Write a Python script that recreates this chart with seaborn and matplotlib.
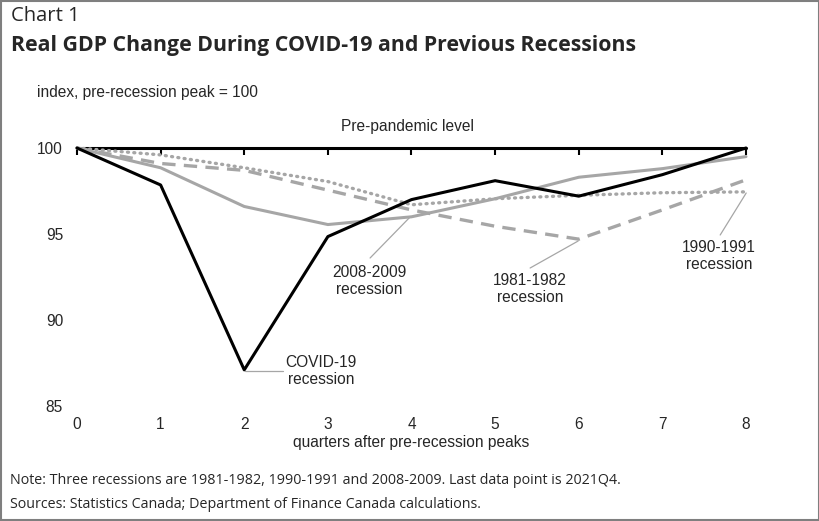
import numpy as np
import pandas as pd
import matplotlib
matplotlib.use("Agg")
import matplotlib.pyplot as plt
import seaborn as sns
from matplotlib.patches import Rectangle

# Data (index, pre-recession peak = 100)
quarters = [0, 1, 2, 3, 4, 5, 6, 7, 8]
covid = [100, 97.85, 87.1, 94.85, 97.0, 98.1, 97.2, 98.45, 100]
rec_2008 = [100, 98.85, 96.6, 95.55, 96.0, 97.05, 98.3, 98.8, 99.5]
rec_1981 = [100, 99.1, 98.7, 97.55, 96.4, 95.45, 94.7, 96.4, 98.15]
rec_1990 = [100, 99.6, 98.85, 98.05, 96.7, 97.05, 97.25, 97.4, 97.45]
y_ticks = [85, 90, 95, 100]

sns.set_style("white")
plt.rcParams['font.family'] = ['Liberation Sans', 'DejaVu Sans']

gray = "#a6a6a6"
fs = 11.2
fig = plt.figure(figsize=(8.2, 5.21), dpi=100)
ax = fig.add_axes([77 / 820, 1 - 406 / 521, (746 - 77) / 820, (406 - 148) / 521])

df = pd.DataFrame({"q": quarters, "covid": covid, "r2008": rec_2008,
                   "r1981": rec_1981, "r1990": rec_1990})

sns.lineplot(data=df, x="q", y="r1990", ax=ax, color=gray, lw=2.4,
             linestyle=(0, (0.3, 1.6)), dash_capstyle="round", clip_on=False)
sns.lineplot(data=df, x="q", y="r1981", ax=ax, color=gray, lw=2.4,
             linestyle=(0, (4, 2.5)), clip_on=False)
sns.lineplot(data=df, x="q", y="r2008", ax=ax, color=gray, lw=2.2, clip_on=False)
ax.axhline(100, color="black", lw=2.2, clip_on=False, zorder=1)
sns.lineplot(data=df, x="q", y="covid", ax=ax, color="black", lw=2.2, clip_on=False)

ax.set_xlim(0, 8)
ax.set_ylim(85, 100)
ax.set_yticks(y_ticks)
ax.set_xticks(quarters)
for s in ax.spines.values():
    s.set_visible(False)
ax.tick_params(axis="y", length=0, pad=10, labelsize=fs)
ax.tick_params(axis="x", bottom=False, top=True, direction="in", length=5,
               width=1.5, color="black", labelsize=fs, pad=8)
ax.set_xlabel("quarters after pre-recession peaks", fontsize=fs, labelpad=2)
ax.set_ylabel("")
ax.grid(False)

def to_data(px, py):
    return (px - 77) / 83.6, 100 - (py - 148) / 17.2

tkw = dict(fontsize=fs, ha="center", va="center", linespacing=1.1)
ax.text(*to_data(407, 127), "Pre-pandemic level", clip_on=False, **tkw)

labels = [("COVID-19\nrecession", (321, 371), (283, 371), (245, 371)),
          ("2008-2009\nrecession", (369, 281), (370, 258), (410, 217)),
          ("1981-1982\nrecession", (530, 289), (530, 268), (578, 241)),
          ("1990-1991\nrecession", (719, 256), (720, 235), (746, 193))]
for txt, tpos, p0, p1 in labels:
    ax.text(*to_data(*tpos), txt, **tkw)
    x0, y0 = to_data(*p0)
    x1, y1 = to_data(*p1)
    ax.plot([x0, x1], [y0, y1], color=gray, lw=0.9, clip_on=False)

fig.text(11 / 820, 1 - 16 / 521, "Chart 1", fontsize=14.6, va="center",
         family=["Open Sans", "DejaVu Sans"])
fig.text(11 / 820, 1 - 46 / 521, "Real GDP Change During COVID-19 and Previous Recessions",
         fontsize=15.3, fontweight="bold", va="center",
         family=["Open Sans", "DejaVu Sans"])
fig.text(37 / 820, 1 - 93 / 521, "index, pre-recession peak = 100", fontsize=fs, va="center")
fig.text(10 / 820, 1 - 481 / 521,
         "Note: Three recessions are 1981-1982, 1990-1991 and 2008-2009. Last data point is 2021Q4.",
         fontsize=10.3, va="center", family=["Open Sans", "DejaVu Sans"])
fig.text(10 / 820, 1 - 505 / 521,
         "Sources: Statistics Canada; Department of Finance Canada calculations.",
         fontsize=10.3, va="center", family=["Open Sans", "DejaVu Sans"])

fig.patches.append(Rectangle((0.001, 0.001), 0.998, 0.997, transform=fig.transFigure,
                             fill=False, edgecolor="#7f7f7f", lw=1.5))

fig.savefig("out.png", dpi=100)
